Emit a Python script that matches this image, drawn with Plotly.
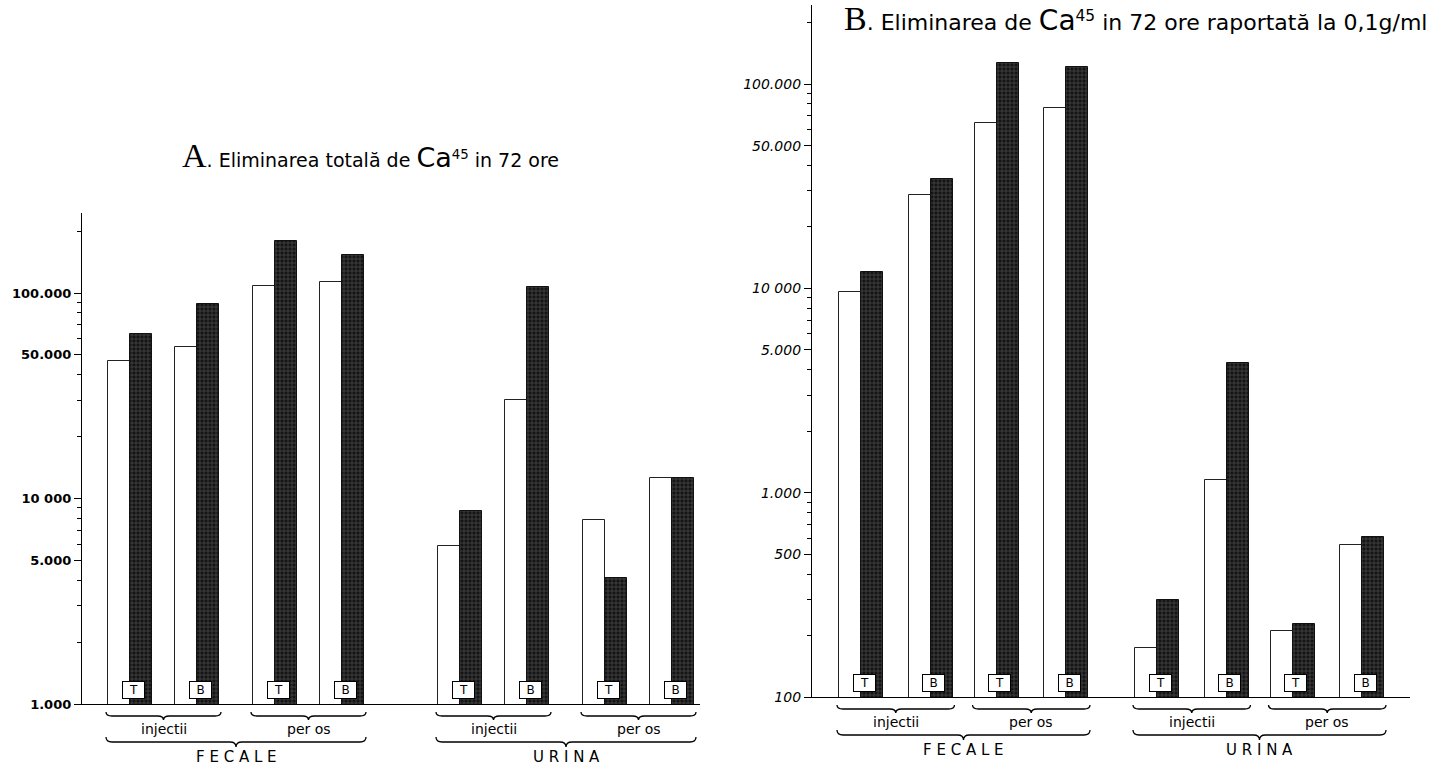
import numpy as np
import plotly.graph_objects as go

# ==========================================
# Data
# ==========================================
surse = ["FECALE", "URINA"]
cai = ["injectii", "per os"]
loturi = ["T", "B"]

# order: FECALE inj T, inj B, per os T, per os B, URINA inj T, inj B, per os T, per os B
a_alb = [46700, 54600, 108000, 113000, 5870, 30200, 7860, 12600]
a_hasurat = [63100, 88400, 179000, 153000, 8700, 107000, 4100, 12600]

b_alb = [9600, 28600, 64500, 76400, 174, 1150, 210, 555]
b_hasurat = [12000, 34300, 127000, 121000, 298, 4310, 228, 607]

a_tickvals = [1000, 5000, 10000, 50000, 100000]
a_ticktext = ["1.000", "5.000", "10 000", "50.000", "100.000"]
b_tickvals = [100, 500, 1000, 5000, 10000, 50000, 100000]
b_ticktext = ["100", "500", "1.000", "5.000", "10 000", "50.000", "100.000"]

# ==========================================
# Page geometry (pixels of the 1452x765 page)
# ==========================================
W, H = 1452, 765
BAR_W = 22
FONT = "DejaVu Sans"

panels = [
    dict(name="A", alb=a_alb, has=a_hasurat, tv=a_tickvals, tt=a_ticktext,
         left=82, right=700, base=704, top=213, ymin=3, per_dec=205.5,
         s=48, da=67, dr=145, dg=330, tickweight="bold", tickstyle="normal", ticksize=13),
    dict(name="B", alb=b_alb, has=b_hasurat, tv=b_tickvals, tt=b_ticktext,
         left=812, right=1410, base=697, top=5, ymin=2, per_dec=204.3,
         s=49, da=69.5, dr=135.5, dg=296, tickweight="normal", tickstyle="italic", ticksize=14),
]


def py(p):
    # page pixel row -> paper fraction
    return 1 - p / H


def brace(x0, x1, yt, ym, yb, xref):
    xm = (x0 + x1) / 2
    d = 6
    path = (f"M {x0},{yt} Q {x0},{ym} {x0 + d},{ym} L {xm - d},{ym} "
            f"Q {xm},{ym} {xm},{yb} Q {xm},{ym} {xm + d},{ym} "
            f"L {x1 - d},{ym} Q {x1},{ym} {x1},{yt}")
    return dict(type="path", path=path, xref=xref, yref="paper",
                line=dict(color="black", width=1.3))


fig = go.Figure()
shapes, annots = [], []

for k, p in enumerate(panels):
    xa = "x" if k == 0 else "x2"
    ya = "y" if k == 0 else "y2"
    # bar centre (white|hatched boundary) from the grouping structure
    pos = []
    for g in range(len(surse)):
        for r in range(len(cai)):
            for a in range(len(loturi)):
                pos.append(p["s"] + a * p["da"] + r * p["dr"] + g * p["dg"])
    pos = np.array(pos)

    fig.add_trace(go.Bar(
        x=pos, y=p["alb"], width=BAR_W, offset=-BAR_W, xaxis=xa, yaxis=ya,
        marker=dict(color="white", line=dict(color="#222", width=1)),
        showlegend=False, hoverinfo="y"))
    fig.add_trace(go.Bar(
        x=pos, y=p["has"], width=BAR_W, offset=0, xaxis=xa, yaxis=ya,
        marker=dict(color="#141414", line=dict(color="#111", width=1),
                    pattern=dict(shape="+", fgcolor="#a0a0a0", bgcolor="#141414",
                                 size=4, solidity=0.25)),
        showlegend=False, hoverinfo="y"))

    # T / B boxes at the foot of each pair
    lab = [loturi[i % 2] for i in range(len(pos))]
    for x, t in zip(pos, lab):
        annots.append(dict(x=x + 3, y=(5 / (p["base"] - p["top"])), xref=xa,
                           yref=f"{ya} domain", text=t, showarrow=False,
                           yanchor="bottom", xanchor="center",
                           font=dict(family=FONT, size=12, color="black"),
                           bgcolor="white", bordercolor="black", borderwidth=1,
                           borderpad=1, width=19))

    b0 = p["base"]
    # small braces under each route, big brace under each source
    for g in range(len(surse)):
        for r in range(len(cai)):
            i = g * 4 + r * 2
            x0, x1 = pos[i] - BAR_W - 2, pos[i + 1] + BAR_W + 2
            shapes.append(brace(x0, x1, py(b0 + 8), py(b0 + 12), py(b0 + 16), xa))
            annots.append(dict(x=(x0 + x1) / 2, y=py(b0 + 25), xref=xa, yref="paper",
                               text=cai[r], showarrow=False, yanchor="middle",
                               font=dict(family=FONT, size=14, color="black")))
        x0, x1 = pos[g * 4] - BAR_W - 2, pos[g * 4 + 3] + BAR_W + 2
        shapes.append(brace(x0, x1, py(b0 + 33), py(b0 + 38), py(b0 + 43), xa))
        annots.append(dict(x=(x0 + x1) / 2, y=py(b0 + 53), xref=xa, yref="paper",
                           text=" ".join(surse[g]), showarrow=False, yanchor="middle",
                           font=dict(family=FONT, size=15, color="black")))

    # minor ticks 2..9 within each decade
    decs = range(p["ymin"], 6)
    minor_vals = [m * 10 ** d for d in decs for m in range(2, 10)]

    ymax = p["ymin"] + (p["base"] - p["top"]) / p["per_dec"]
    xaxis = dict(domain=[p["left"] / W, p["right"] / W], range=[0, p["right"] - p["left"]],
                 showticklabels=False, showgrid=False, zeroline=False,
                 showline=True, linecolor="black", linewidth=1.3, ticks="",
                 anchor=ya, fixedrange=True, automargin=False)
    yaxis = dict(domain=[py(p["base"]), py(p["top"])], type="log",
                 range=[p["ymin"], ymax], tickvals=p["tv"], ticktext=p["tt"],
                 ticks="outside", ticklen=7, tickwidth=1.3, tickcolor="black",
                 showline=True, linecolor="black", linewidth=1.3,
                 showgrid=False, zeroline=False, anchor=xa, automargin=False,
                 tickfont=dict(family=FONT, size=p["ticksize"], color="black",
                               weight=p["tickweight"], style=p["tickstyle"]),
                 minor=dict(tickvals=minor_vals, ticks="outside", ticklen=4,
                            tickcolor="black", tickwidth=1, showgrid=False))
    sfx = "" if k == 0 else "2"
    fig.update_layout(**{f"xaxis{sfx}": xaxis, f"yaxis{sfx}": yaxis})

# ==========================================
# Titles
# ==========================================
annots.append(dict(
    x=180 / W, y=py(156), xref="paper", yref="paper", xanchor="left", yanchor="middle",
    showarrow=False, font=dict(family=FONT, size=19, color="black"),
    text=("<span style='font-family:Liberation Serif;font-size:34px'>A</span>. "
          "Eliminarea totală de <span style='font-size:27px'>Ca</span>"
          "<sup>45</sup> in 72 ore")))
annots.append(dict(
    x=842 / W, y=py(18), xref="paper", yref="paper", xanchor="left", yanchor="middle",
    showarrow=False, font=dict(family=FONT, size=22, color="black"),
    text=("<span style='font-family:Liberation Serif;font-size:34px'>B</span>. "
          "Eliminarea de <span style='font-size:28px'>Ca</span>"
          "<sup>45</sup> in 72 ore raportată la 0,1g/ml")))

fig.update_layout(
    width=W, height=H,
    margin=dict(l=0, r=0, t=0, b=0),
    paper_bgcolor="white", plot_bgcolor="white",
    barmode="overlay", bargap=0,
    shapes=shapes, annotations=annots,
    showlegend=False,
)

fig.write_html("out.html", config={"displayModeBar": False},
               post_script="document.body.style.margin='0px';")
